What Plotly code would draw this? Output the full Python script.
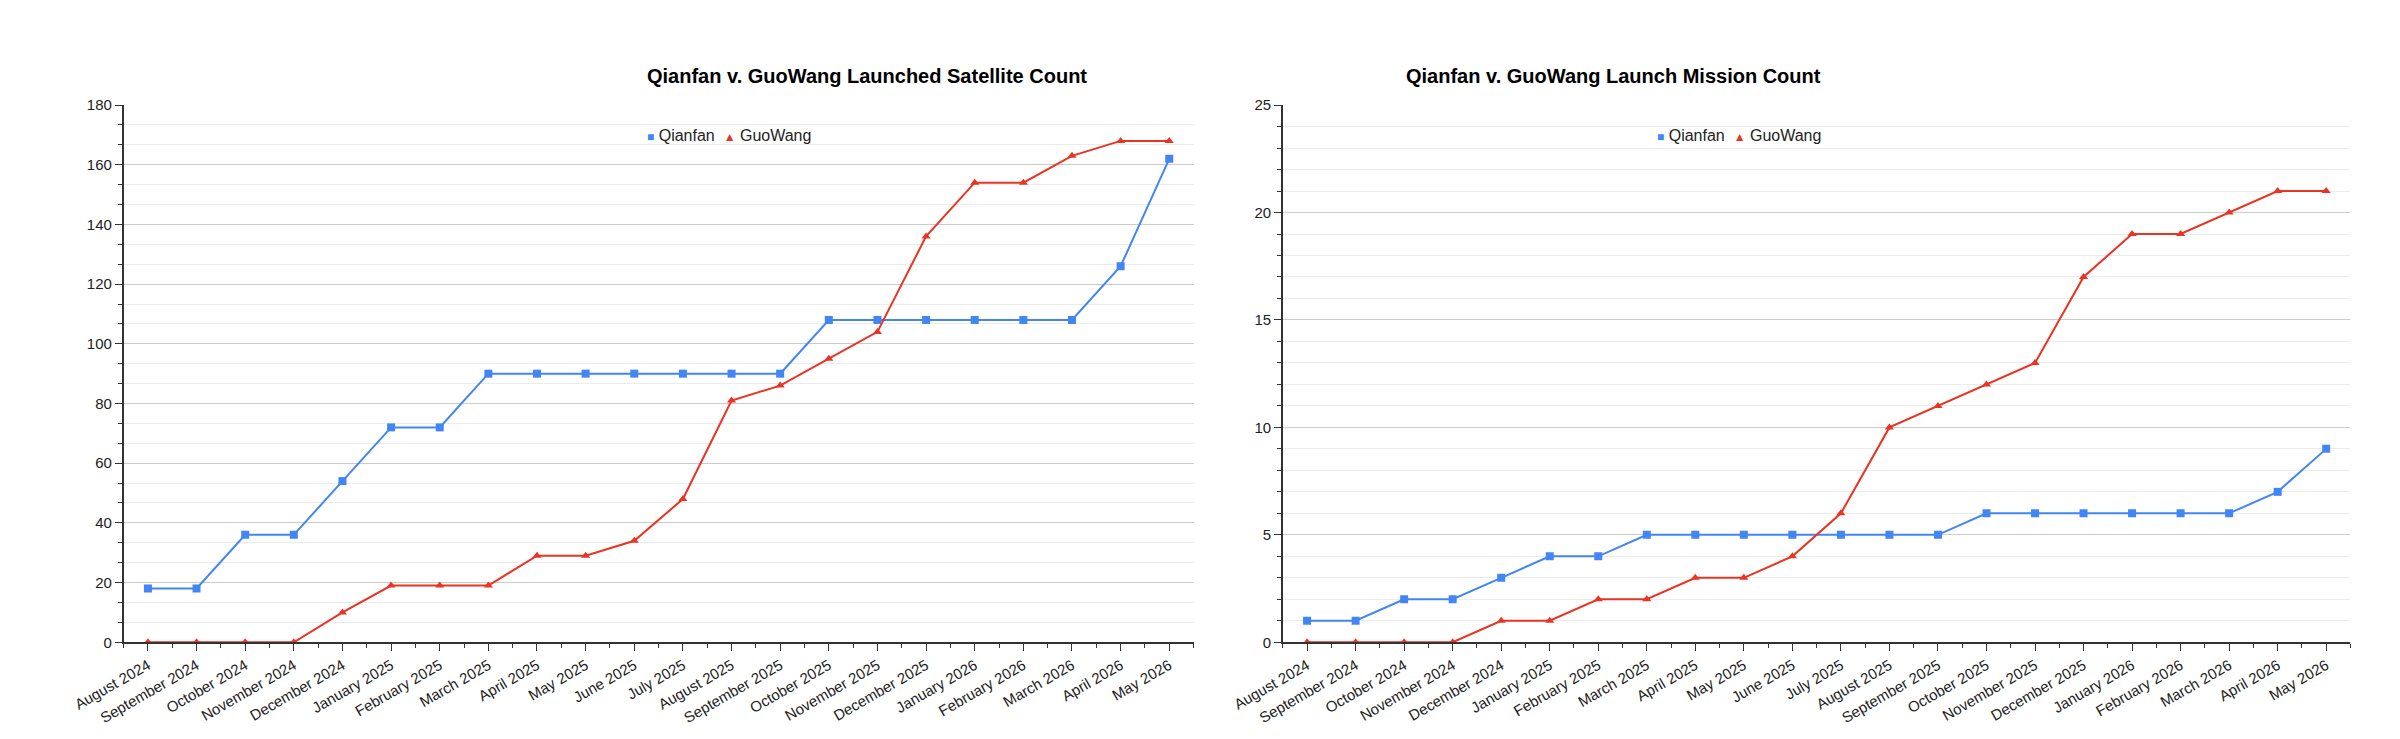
import plotly.graph_objects as go

months = ["August 2024","September 2024","October 2024","November 2024","December 2024",
          "January 2025","February 2025","March 2025","April 2025","May 2025","June 2025",
          "July 2025","August 2025","September 2025","October 2025","November 2025",
          "December 2025","January 2026","February 2026","March 2026","April 2026","May 2026"]
qianfan_sats = [18,18,36,36,54,72,72,90,90,90,90,90,90,90,108,108,108,108,108,108,126,162]
guowang_sats = [0,0,0,0,10,19,19,19,29,29,34,48,81,86,95,104,136,154,154,163,168,168]
qianfan_missions = [1,1,2,2,3,4,4,5,5,5,5,5,5,5,6,6,6,6,6,6,7,9]
guowang_missions = [0,0,0,0,1,1,2,2,3,3,4,6,10,11,12,13,17,19,19,20,21,21]

idx = list(range(len(months)))
BLUE = "#4285f4"
RED = "#ea3323"
FONT = "Liberation Sans, Arial, sans-serif"

fig = go.Figure()
def add(x_ax, y_ax, q, g):
    fig.add_trace(go.Scatter(x=idx, y=q, name="Qianfan", mode="lines+markers",
        line=dict(color=BLUE, width=2), marker=dict(symbol="square", size=8, color=BLUE),
        xaxis=x_ax, yaxis=y_ax, showlegend=False))
    fig.add_trace(go.Scatter(x=idx, y=g, name="GuoWang", mode="lines+markers",
        line=dict(color=RED, width=2), marker=dict(symbol="triangle-up", size=8, color=RED),
        xaxis=x_ax, yaxis=y_ax, showlegend=False))

add("x", "y", qianfan_sats, guowang_sats)
add("x2", "y2", qianfan_missions, guowang_missions)

xcommon = dict(tickmode="array", tickvals=idx, ticktext=months, tickangle=-30,
    range=[-0.5, len(months)-0.5], showgrid=False, zeroline=False, showline=True,
    linecolor="#333", linewidth=1.5, ticks="outside", ticklen=7, tickcolor="#333",
    minor=dict(dtick=0.5, tick0=-0.5, ticks="outside", ticklen=4, tickcolor="#333"),
    tickfont=dict(family=FONT, size=15, color="#222"))
ycommon = dict(showline=True, linecolor="#333", linewidth=1.5, ticks="outside", ticklen=7,
    tickcolor="#333", gridcolor="#cccccc", zeroline=False,
    tickfont=dict(family=FONT, size=15, color="#222"))

fig.update_layout(
    width=2400, height=739, plot_bgcolor="white", paper_bgcolor="white",
    margin=dict(l=0, r=0, t=0, b=0), showlegend=False,
    xaxis=dict(domain=[0.0275, 0.483], anchor="y", **xcommon),
    xaxis2=dict(domain=[0.521, 0.9755], anchor="y2", **xcommon),
    yaxis=dict(domain=[0.134, 0.878], anchor="x", range=[0, 180], dtick=20,
               minor=dict(dtick=20/3, ticks="outside", ticklen=4, tickcolor="#333",
                          showgrid=True, gridcolor="#ececec"), **ycommon),
    yaxis2=dict(domain=[0.134, 0.878], anchor="x2", range=[0, 25], dtick=5,
                minor=dict(dtick=1, ticks="outside", ticklen=4, tickcolor="#333",
                           showgrid=True, gridcolor="#ececec"), **ycommon),
)

for xc, title in [(599, "Qianfan v. GuoWang Launched Satellite Count"),
                  (1802, "Qianfan v. GuoWang Launch Mission Count")]:
    fig.add_annotation(text="<b>"+title+"</b>", x=xc/2400, y=1-47/739, xref="paper", yref="paper",
        showarrow=False, font=dict(family=FONT, size=20, color="#000"))
    fig.add_annotation(text="<span style='color:%s;font-size:12px'>■</span> Qianfan  <span style='color:%s;font-size:12px'>▲</span> GuoWang" % (BLUE, RED),
        x=xc/2400, y=1-111/739, xref="paper", yref="paper", showarrow=False,
        font=dict(family=FONT, size=16, color="#222"))

fig.write_html("out.html")
